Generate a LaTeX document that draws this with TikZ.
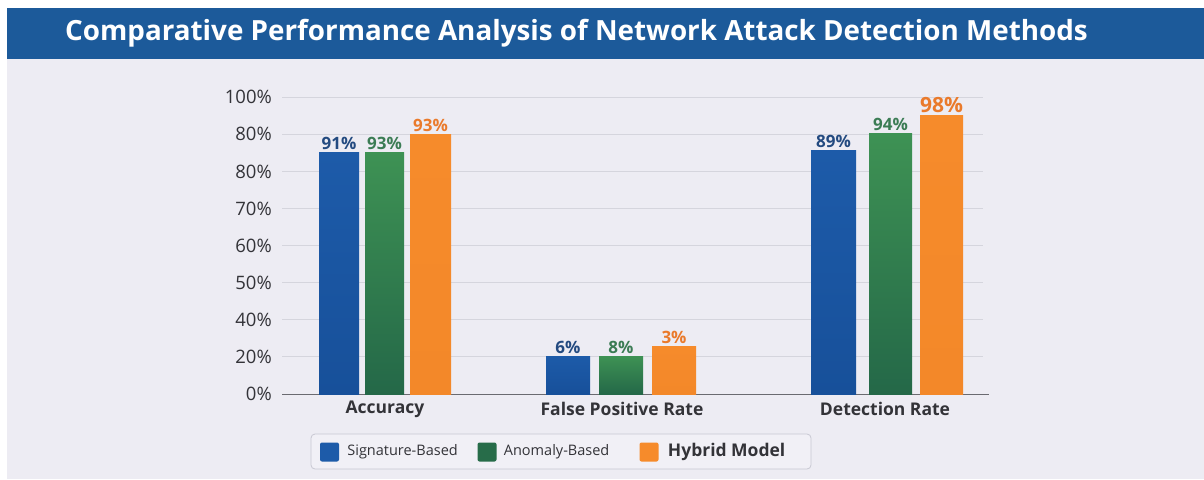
\documentclass[tikz,border=0pt]{standalone}
\usepackage{fontspec}
\setmainfont{Open Sans}
\usetikzlibrary{positioning}

\definecolor{titleblue}{HTML}{1C5A9A}
\definecolor{panelgray}{HTML}{EDECF3}
\definecolor{gridgray}{HTML}{D5D5DD}
\definecolor{axisgray}{HTML}{6A6A70}
\definecolor{labelgray}{HTML}{333338}
\definecolor{legendfill}{HTML}{F1F0F6}
\definecolor{legendborder}{HTML}{C8C8D2}
\definecolor{sigtop}{HTML}{1D5BA9}
\definecolor{sigbot}{HTML}{17509A}
\definecolor{anotop}{HTML}{3E9254}
\definecolor{anobot}{HTML}{246848}
\definecolor{hybtop}{HTML}{F68B2B}
\definecolor{hybbot}{HTML}{F38829}
\definecolor{sigtext}{HTML}{234A80}
\definecolor{anotext}{HTML}{3B7C54}
\definecolor{hybtext}{HTML}{EA7A2B}

\begin{document}
\begin{tikzpicture}[x=1pt, y=-1pt,
    grid line/.style={draw=gridgray, line width=0.9pt},
    ytick label/.style={anchor=east, inner sep=0pt, text=labelgray, font=\fontsize{18.5}{20}\selectfont},
    cat label/.style={inner sep=0pt, text=labelgray, font=\bfseries\fontsize{17.5}{20}\selectfont},
    val label/.style={anchor=south, inner sep=1pt},
    key box/.style={minimum size=19pt, inner sep=0pt, rounded corners=2pt},
    key text/.style={inner sep=0pt, text=labelgray, font=\fontsize{14.5}{17}\selectfont}]

    % Canvas and title bar
    \useasboundingbox (0,0) rectangle (1204,479);
    \fill[white] (0,0) rectangle (1204,479);
    \fill[panelgray] (7,8) rectangle (1204,479);
    \fill[titleblue] (7,8) rectangle (1204,59);
    \node[anchor=west, inner sep=0pt, text=white, font=\bfseries\fontsize{27.8}{32}\selectfont] (title) at (65,33)
      {Comparative Performance Analysis of Network Attack Detection Methods};

    % Gridlines with the y labels as printed
    \foreach \lab [count=\i from 0] in {0\%,20\%,40\%,50\%,60\%,70\%,80\%,80\%,100\%} {
      \pgfmathsetmacro{\yy}{394-\i*37.1}
      \draw[grid line] (282,\yy) -- (983,\yy);
      \node[ytick label] (ytick\i) at (272,\yy) {\lab};
    }

    % Base axis
    \coordinate (axis start) at (282,394.5);
    \coordinate (axis end) at (989,394.5);
    \draw[axisgray, line width=1.2pt] (axis start) -- (axis end);

    % Bars: left / width / top / value / series / label size / name
    \foreach \x/\w/\top/\val/\ser/\sz/\name in {
        319/40/152/91/sig/17/accsig, 365/39/152/93/ano/17/accano, 410/41/134/93/hyb/17/acchyb,
        546/44/356/6/sig/17/fprsig, 599/44/356/8/ano/17/fprano, 652/44/346/3/hyb/17/fprhyb,
        811/45/150/89/sig/17/drsig, 869/43/133/94/ano/17/drano, 920/43/115/98/hyb/21/drhyb} {
      \shade[top color=\ser top, bottom color=\ser bot] (\x,\top) rectangle ++(\w,394-\top);
      \coordinate (\name) at ({\x+\w/2},\top-1);
      \node[val label, text=\ser text, font=\bfseries\fontsize{\sz}{\sz}\selectfont] (\name-val) at (\name) {\val\%};
    }

    % Category names
    \node[cat label] (acc) at (385,409) {Accuracy};
    \node[cat label] (fpr) at (622,409) {False Positive Rate};
    \node[cat label] (dr) at (885,409) {Detection Rate};

    % Legend
    \node[draw=legendborder, fill=legendfill, line width=0.8pt, rounded corners=4pt,
      minimum width=500pt, minimum height=35pt] (legend) at (561,451.5) {};
    \node[key box, fill=sigtop] (keysig) at (329.5,452) {};
    \node[key text, right=8pt of keysig] (keysig-text) {Signature-Based};
    \node[key box, fill=anobot!90!anotop] (keyano) at (487,452) {};
    \node[key text, right=7pt of keyano] (keyano-text) {Anomaly-Based};
    \node[key box, fill=hybtop] (keyhyb) at (649,452) {};
    \node[key text, right=9pt of keyhyb, font=\bfseries\fontsize{17.5}{20}\selectfont] (keyhyb-text) {Hybrid Model};
\end{tikzpicture}
\end{document}
